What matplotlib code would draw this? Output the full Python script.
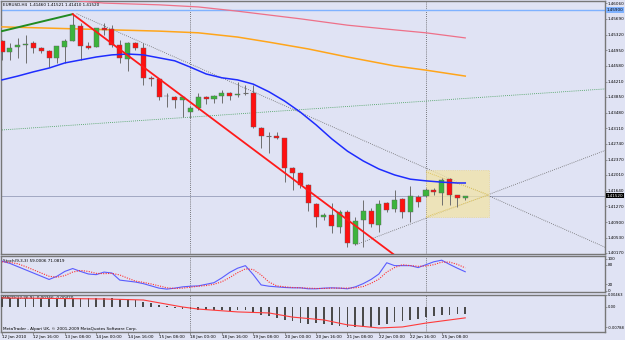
import matplotlib
matplotlib.use("Agg")
import matplotlib.pyplot as plt
from matplotlib.patches import Rectangle
from matplotlib.transforms import blended_transform_factory

W, H = 625, 340

# EURUSD H4 candles, 12 Jan 2010 00:00 .. 25 Jan 2010 20:00
opens = [1.4517, 1.4491, 1.4503, 1.4507, 1.4512, 1.4500, 1.4493, 1.4477, 1.4503, 1.4517,
         1.4552, 1.4505, 1.4503, 1.4547, 1.4545, 1.4507, 1.4474, 1.4512, 1.4500, 1.4430,
         1.4427, 1.4387, 1.4385, 1.4378, 1.4349, 1.4359, 1.4385, 1.4380, 1.4387, 1.4394,
         1.4389, 1.4394, 1.4394, 1.4312, 1.4293, 1.4293, 1.4288, 1.4217, 1.4206, 1.4177,
         1.4133, 1.4102, 1.4107, 1.4078, 1.4114, 1.4038, 1.4095, 1.4116, 1.4083, 1.4135,
         1.4121, 1.4144, 1.4114, 1.4149, 1.4151, 1.4166, 1.4158, 1.4191, 1.4154, 1.4146]
highs = [1.4519, 1.4512, 1.4524, 1.4531, 1.4517, 1.4503, 1.4496, 1.4505, 1.4521, 1.4580,
         1.4559, 1.4514, 1.4547, 1.4559, 1.4554, 1.4519, 1.4514, 1.4514, 1.4512, 1.4434,
         1.4427, 1.4394, 1.4387, 1.4385, 1.4364, 1.4394, 1.4387, 1.4389, 1.4401, 1.4397,
         1.4420, 1.4413, 1.4413, 1.4314, 1.4302, 1.4302, 1.4288, 1.4220, 1.4208, 1.4180,
         1.4135, 1.4111, 1.4135, 1.4118, 1.4118, 1.4102, 1.4142, 1.4123, 1.4142, 1.4137,
         1.4166, 1.4147, 1.4175, 1.4154, 1.4170, 1.4170, 1.4194, 1.4194, 1.4154, 1.41521]
lows = [1.4472, 1.4472, 1.4477, 1.4465, 1.4488, 1.4488, 1.4455, 1.4465, 1.4465, 1.4517,
        1.4472, 1.4498, 1.4503, 1.4531, 1.4503, 1.4465, 1.4446, 1.4496, 1.4413, 1.4411,
        1.4378, 1.4361, 1.4359, 1.4338, 1.4335, 1.4354, 1.4368, 1.4371, 1.4371, 1.4378,
        1.4385, 1.4389, 1.4312, 1.4265, 1.4253, 1.4286, 1.4184, 1.4166, 1.4170, 1.4116,
        1.4078, 1.4095, 1.4064, 1.4064, 1.4031, 1.4036, 1.4031, 1.4078, 1.4067, 1.4114,
        1.4114, 1.4100, 1.4090, 1.4125, 1.4149, 1.4154, 1.4130, 1.4130, 1.4125, 1.4141]
closes = [1.4491, 1.4500, 1.4507, 1.4510, 1.4500, 1.4493, 1.4477, 1.4505, 1.4517, 1.4554,
          1.4505, 1.4500, 1.4547, 1.4543, 1.4507, 1.4477, 1.4512, 1.4500, 1.4430, 1.4427,
          1.4385, 1.4388, 1.4378, 1.4385, 1.4359, 1.4385, 1.4380, 1.4387, 1.4394, 1.4387,
          1.4392, 1.4394, 1.4314, 1.4293, 1.4293, 1.4288, 1.4217, 1.4206, 1.4177, 1.4135,
          1.4102, 1.4107, 1.4081, 1.4114, 1.4041, 1.4092, 1.4116, 1.4085, 1.4133, 1.4118,
          1.4142, 1.4114, 1.4151, 1.4137, 1.4166, 1.4161, 1.4189, 1.4154, 1.4147, 1.4152]

# moving averages, read at sampled candles
ma_blue_idx = [0, 2, 4, 6, 8, 10, 12, 14, 16, 18, 20, 22, 24, 26, 28, 30, 32, 34, 36,
               38, 40, 42, 44, 46, 48, 50, 52, 54, 56, 58, 59]
ma_blue = [1.4425, 1.4434, 1.4444, 1.4453, 1.4465, 1.4472, 1.4479, 1.4484, 1.4486, 1.4484,
           1.4477, 1.4470, 1.4455, 1.4439, 1.4430, 1.4425, 1.4415, 1.4397, 1.4375, 1.4349,
           1.4319, 1.4286, 1.4257, 1.4234, 1.4215, 1.4201, 1.4191, 1.4187, 1.4184, 1.4182,
           1.4182]
ma_orange_idx = [0, 10, 20, 25, 30, 34, 39, 44, 50, 54, 59]
ma_orange = [1.4550, 1.4545, 1.4540, 1.4536, 1.4526, 1.4514, 1.4498, 1.4479, 1.4458,
             1.4448, 1.4434]
ma_pink_idx = [8, 13, 20, 25, 30, 38, 44, 50, 54, 59]
ma_pink = [1.4614, 1.4606, 1.4602, 1.4597, 1.4587, 1.4569, 1.4554, 1.4543, 1.4536, 1.4524]

# drawn objects (candle index, price)
green_trend = ([0, 9], [1.4540, 1.4580])
red_trend = ([9, 50], [1.4580, 1.4012])
gray_down = ([9.5, 77], [1.4581, 1.4029])
gray_up = ([45, 77], [1.4036, 1.4260])
green_dotted = ([0, 77], [1.4307, 1.4404])
tri_upper = ([54, 62], [1.4208, 1.4154])
tri_lower = ([54, 62], [1.4102, 1.4154])
rect_box = (54, 62, 1.4102, 1.4213)
hline_level = 1.4590
bid = 1.4152
separators = [24, 54]

price_ticks = [1.40170, 1.40530, 1.40900, 1.41270, 1.41640, 1.42010, 1.42370, 1.42740,
               1.43110, 1.43480, 1.43850, 1.44210, 1.44580, 1.44950, 1.45320, 1.45690,
               1.46060]

stoch_k = [92, 85, 75, 65, 55, 45, 35, 45, 60, 69, 60, 52, 50, 58, 55, 33, 30, 27, 22, 15,
           8, 5, 8, 12, 14, 15, 20, 25, 40, 57, 70, 78, 50, 18, 14, 12, 10, 9, 9, 6,
           6, 8, 9, 8, 6, 12, 22, 35, 52, 87, 78, 78, 78, 72, 81, 90, 95, 82, 70, 59]
stoch_d = [90, 88, 84, 75, 65, 55, 45, 42, 47, 58, 63, 60, 54, 53, 54, 49, 39, 30, 26, 21,
           15, 9, 7, 8, 11, 14, 16, 20, 28, 41, 56, 68, 66, 49, 27, 15, 12, 10, 9, 8,
           7, 7, 8, 8, 8, 9, 13, 23, 36, 58, 72, 81, 78, 76, 77, 81, 89, 89, 82, 71]

macd_hist = [0.0037, 0.0036, 0.0035, 0.0035, 0.0034, 0.0033, 0.0031, 0.0031, 0.0032, 0.0036,
             0.0035, 0.0033, 0.0034, 0.0034, 0.0033, 0.0030, 0.0029, 0.0027, 0.0020, 0.0015,
             0.0008, 0.0002, -0.0003, -0.0006, -0.0009, -0.0010, -0.0012, -0.0013, -0.0013, -0.0014,
             -0.0013, -0.0013, -0.0022, -0.0030, -0.0036, -0.0041, -0.0050, -0.0055, -0.0060, -0.0064,
             -0.0062, -0.0066, -0.0070, -0.0074, -0.0077, -0.0079, -0.0077, -0.0077, -0.0070, -0.0066,
             -0.0058, -0.0054, -0.0050, -0.0047, -0.0039, -0.0035, -0.0031, -0.0029, -0.0027, -0.0027]
macd_sig_idx = [0, 13, 18, 23, 25, 30, 34, 37, 41, 44, 48, 51, 54, 59]
macd_sig = [0.0035, 0.0031, 0.0027, 0.0000, -0.0008, -0.0019, -0.0023, -0.0039, -0.0050,
            -0.0069, -0.0081, -0.0077, -0.0062, -0.0042]

date_idx = [0, 4, 8, 12, 16, 20, 24, 28, 32, 36, 40, 44, 48, 52, 56]
date_labels = ["12 Jan 2010", "12 Jan 16:00", "13 Jan 08:00", "14 Jan 00:00", "14 Jan 16:00",
               "15 Jan 08:00", "18 Jan 00:00", "18 Jan 16:00", "19 Jan 08:00", "20 Jan 00:00",
               "20 Jan 16:00", "21 Jan 08:00", "22 Jan 00:00", "22 Jan 16:00", "25 Jan 08:00"]

BG = "#e0e3f4"
FRAME = "#777777"
FS = 3.0


def px_rect(x0, y0, x1, y1):
    return [x0 / W, 1 - y1 / H, (x1 - x0) / W, (y1 - y0) / H]


def style_axes(ax, size=FS):
    ax.set_facecolor(BG)
    ax.set_xlim(-0.13, 76.8)
    for sp in ax.spines.values():
        sp.set_color(FRAME)
        sp.set_linewidth(1.0)
    ax.tick_params(axis="x", bottom=False, labelbottom=False)
    ax.tick_params(axis="y", left=False, labelleft=False, right=True, labelright=True,
                   labelsize=size, length=1.5, width=0.5, pad=0.5, color=FRAME)
    for sep in separators:
        ax.axvline(sep, color="#555555", lw=0.6, ls=(0, (1, 1.5)), zorder=1)


def main():
    fig = plt.figure(figsize=(W / 100, H / 100), dpi=100)
    fig.patch.set_facecolor(BG)

    ax = fig.add_axes(px_rect(1, 1, 605, 254))
    ax_st = fig.add_axes(px_rect(1, 256, 605, 292))
    ax_md = fig.add_axes(px_rect(1, 295, 605, 332))
    style_axes(ax)
    style_axes(ax_st)
    style_axes(ax_md, size=2.7)

    # ---- main price panel
    ax.set_ylim(1.40146, 1.46110)
    ax.set_yticks(price_ticks)
    ax.set_yticklabels([f"{p:.5f}" for p in price_ticks])

    ax.axhline(bid, color="#a2a8c2", lw=0.7, zorder=1)
    ax.axhline(hline_level, color="#7fb2ff", lw=1.0, zorder=2)

    ax.plot(*green_dotted, color="#3a9a50", lw=0.6, ls=(0, (1, 1.5)), zorder=2)
    ax.plot(*gray_down, color="#6a6a6a", lw=0.6, ls=(0, (1, 1.5)), zorder=2)
    ax.plot(*gray_up, color="#6a6a6a", lw=0.6, ls=(0, (1, 1.5)), zorder=2)

    x0, x1, y0, y1 = rect_box
    ax.add_patch(Rectangle((x0, y0), x1 - x0, y1 - y0, facecolor="#f2e4a6", alpha=0.75,
                           edgecolor="#e8c860", lw=0.5, ls=":", zorder=2))
    ax.plot(*tri_upper, color="#d8b840", lw=0.6, ls=(0, (1, 1.5)), zorder=3)
    ax.plot(*tri_lower, color="#d8b840", lw=0.6, ls=(0, (1, 1.5)), zorder=3)

    ax.plot(ma_pink_idx, ma_pink, color="#ee7088", lw=0.9, zorder=3)
    ax.plot(ma_orange_idx, ma_orange, color="#ffa51a", lw=1.1, zorder=3)

    idx = list(range(len(opens)))
    ax.vlines(idx, lows, highs, color="#6e6e6e", lw=0.7, zorder=4)
    for i in idx:
        o, c = opens[i], closes[i]
        if abs(c - o) < 1e-6:
            ax.hlines(o, i - 0.32, i + 0.32, color="#6e6e6e", lw=0.8, zorder=5)
            continue
        color = "#3cb43c" if c > o else "#ff1010"
        ax.add_patch(Rectangle((i - 0.32, min(o, c)), 0.64, abs(c - o), facecolor=color,
                               edgecolor="#606060", lw=0.3, zorder=5))

    ax.plot(ma_blue_idx, ma_blue, color="#1e2cff", lw=1.1, zorder=6)
    ax.plot(*green_trend, color="#228b22", lw=1.4, zorder=6)
    ax.plot(*red_trend, color="#ff1a1a", lw=1.3, zorder=6)

    tr = blended_transform_factory(ax.transAxes, ax.transData)
    ax.text(1.003, hline_level, f"{hline_level:.5f}", transform=tr, fontsize=FS,
            va="center", ha="left", color="black",
            bbox=dict(boxstyle="square,pad=0.15", fc="#7fb2ff", ec="none"), zorder=10)
    ax.text(1.003, bid, f"{bid:.5f}", transform=tr, fontsize=FS, va="center", ha="left",
            color="white", bbox=dict(boxstyle="square,pad=0.15", fc="black", ec="none"),
            zorder=10)

    ax.text(0.004, 0.992, "EURUSD,H4  1.41460 1.41521 1.41410 1.41520",
            transform=ax.transAxes, fontsize=FS, va="top", ha="left", zorder=10)

    # ---- stochastic
    ax_st.set_ylim(-4, 108)
    ax_st.set_yticks([100, 80, 20, 0])
    ax_st.set_yticklabels(["100", "80", "20", "0"])
    ax_st.plot(idx, stoch_k, color="#5a5cff", lw=0.8, zorder=4)
    ax_st.plot(idx, stoch_d, color="#ff3030", lw=0.8, ls=(0, (1, 1.2)), zorder=4)
    ax_st.text(0.004, 0.93, "Stoch(9,3,3) 59.0006 71.0819",
               transform=ax_st.transAxes, fontsize=FS, va="top", ha="left")

    # ---- MACD
    ax_md.set_ylim(-0.00965, 0.00463)
    ax_md.set_yticks([0.00463, 0.0, -0.00788])
    ax_md.set_yticklabels(["0.00463", "0.00", "-0.00788"])
    ax_md.bar(idx, macd_hist, width=0.22, color="#4a4a4a", zorder=3)
    ax_md.plot(macd_sig_idx, macd_sig, color="#ff3a3a", lw=0.8, zorder=4)
    ax_md.text(0.004, 0.96, "MACD(12,26,9) -0.00266 -0.00420", transform=ax_md.transAxes,
               fontsize=FS, va="top", ha="left")
    ax_md.text(0.004, 0.04,
               "MetaTrader - Alpari UK, \u00a9 2001-2009 MetaQuotes Software Corp.",
               transform=ax_md.transAxes, fontsize=FS, va="bottom", ha="left")

    ax_md.set_xticks(date_idx)
    ax_md.set_xticklabels(date_labels)
    ax_md.tick_params(axis="x", bottom=True, labelbottom=True, labelsize=FS, length=2,
                      width=0.5, pad=0.5, color=FRAME)
    for lab in ax_md.get_xticklabels():
        lab.set_horizontalalignment("left")

    fig.savefig("out.png", dpi=100, facecolor=BG)


if __name__ == "__main__":
    main()
